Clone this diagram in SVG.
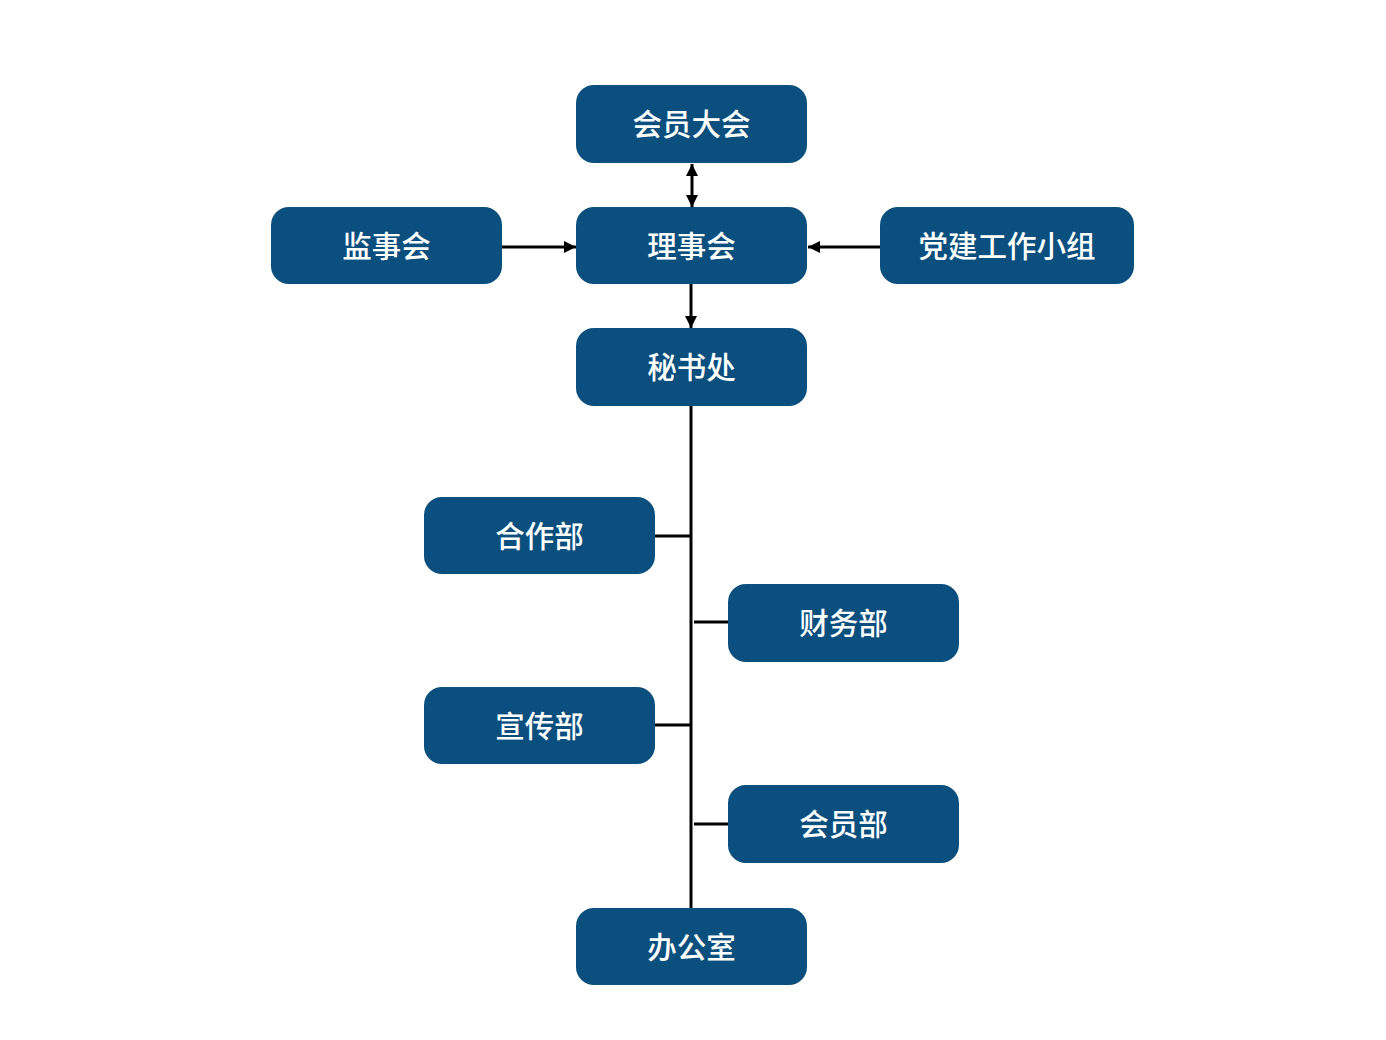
<svg xmlns="http://www.w3.org/2000/svg" width="1386" height="1040" viewBox="0 0 1386 1040">
<defs>
<style>
.n rect{fill:#0b4f7e;}
.n text{fill:#fff;font-family:"Noto Sans CJK SC","Noto Sans",sans-serif;font-size:29.5px;font-weight:500;text-anchor:middle;dominant-baseline:central;}
.c line{stroke:#000;stroke-width:3;fill:none;}
</style>
<marker id="ah" viewBox="0 0 10 10" refX="10" refY="5" markerWidth="12" markerHeight="12" markerUnits="userSpaceOnUse" orient="auto-start-reverse">
<path d="M0,0 L10,5 L0,10 z" fill="#000"/>
</marker>
</defs>
<rect width="1386" height="1040" fill="#fff"/>
<g class="c">
<line x1="692" y1="164" x2="692" y2="207" marker-start="url(#ah)" marker-end="url(#ah)"/>
<line x1="502" y1="247" x2="576" y2="247" marker-end="url(#ah)"/>
<line x1="880" y1="247" x2="808" y2="247" marker-end="url(#ah)"/>
<line x1="691" y1="284" x2="691" y2="328" marker-end="url(#ah)"/>
<line x1="691" y1="406" x2="691" y2="908"/>
<line x1="655" y1="536" x2="691" y2="536"/>
<line x1="694" y1="622" x2="728" y2="622"/>
<line x1="655" y1="725" x2="691" y2="725"/>
<line x1="694" y1="824" x2="728" y2="824"/>
</g>
<g id="n1" class="n"><rect x="576" y="85" width="231" height="78" rx="18"/><text x="691.5" y="122">会员大会</text></g>
<g id="n2" class="n"><rect x="576" y="207" width="231" height="77" rx="18"/><text x="691.5" y="243.5">理事会</text></g>
<g id="n3" class="n"><rect x="271" y="207" width="231" height="77" rx="18"/><text x="386.5" y="243.5">监事会</text></g>
<g id="n4" class="n"><rect x="880" y="207" width="254" height="77" rx="18"/><text x="1007" y="243.5">党建工作小组</text></g>
<g id="n5" class="n"><rect x="576" y="328" width="231" height="78" rx="18"/><text x="691.5" y="365">秘书处</text></g>
<g id="n6" class="n"><rect x="424" y="497" width="231" height="77" rx="18"/><text x="539.5" y="533.5">合作部</text></g>
<g id="n7" class="n"><rect x="728" y="584" width="231" height="78" rx="18"/><text x="843.5" y="621">财务部</text></g>
<g id="n8" class="n"><rect x="424" y="687" width="231" height="77" rx="18"/><text x="539.5" y="723.5">宣传部</text></g>
<g id="n9" class="n"><rect x="728" y="785" width="231" height="78" rx="18"/><text x="843.5" y="822">会员部</text></g>
<g id="n10" class="n"><rect x="576" y="908" width="231" height="77" rx="18"/><text x="691.5" y="944.5">办公室</text></g>
</svg>
